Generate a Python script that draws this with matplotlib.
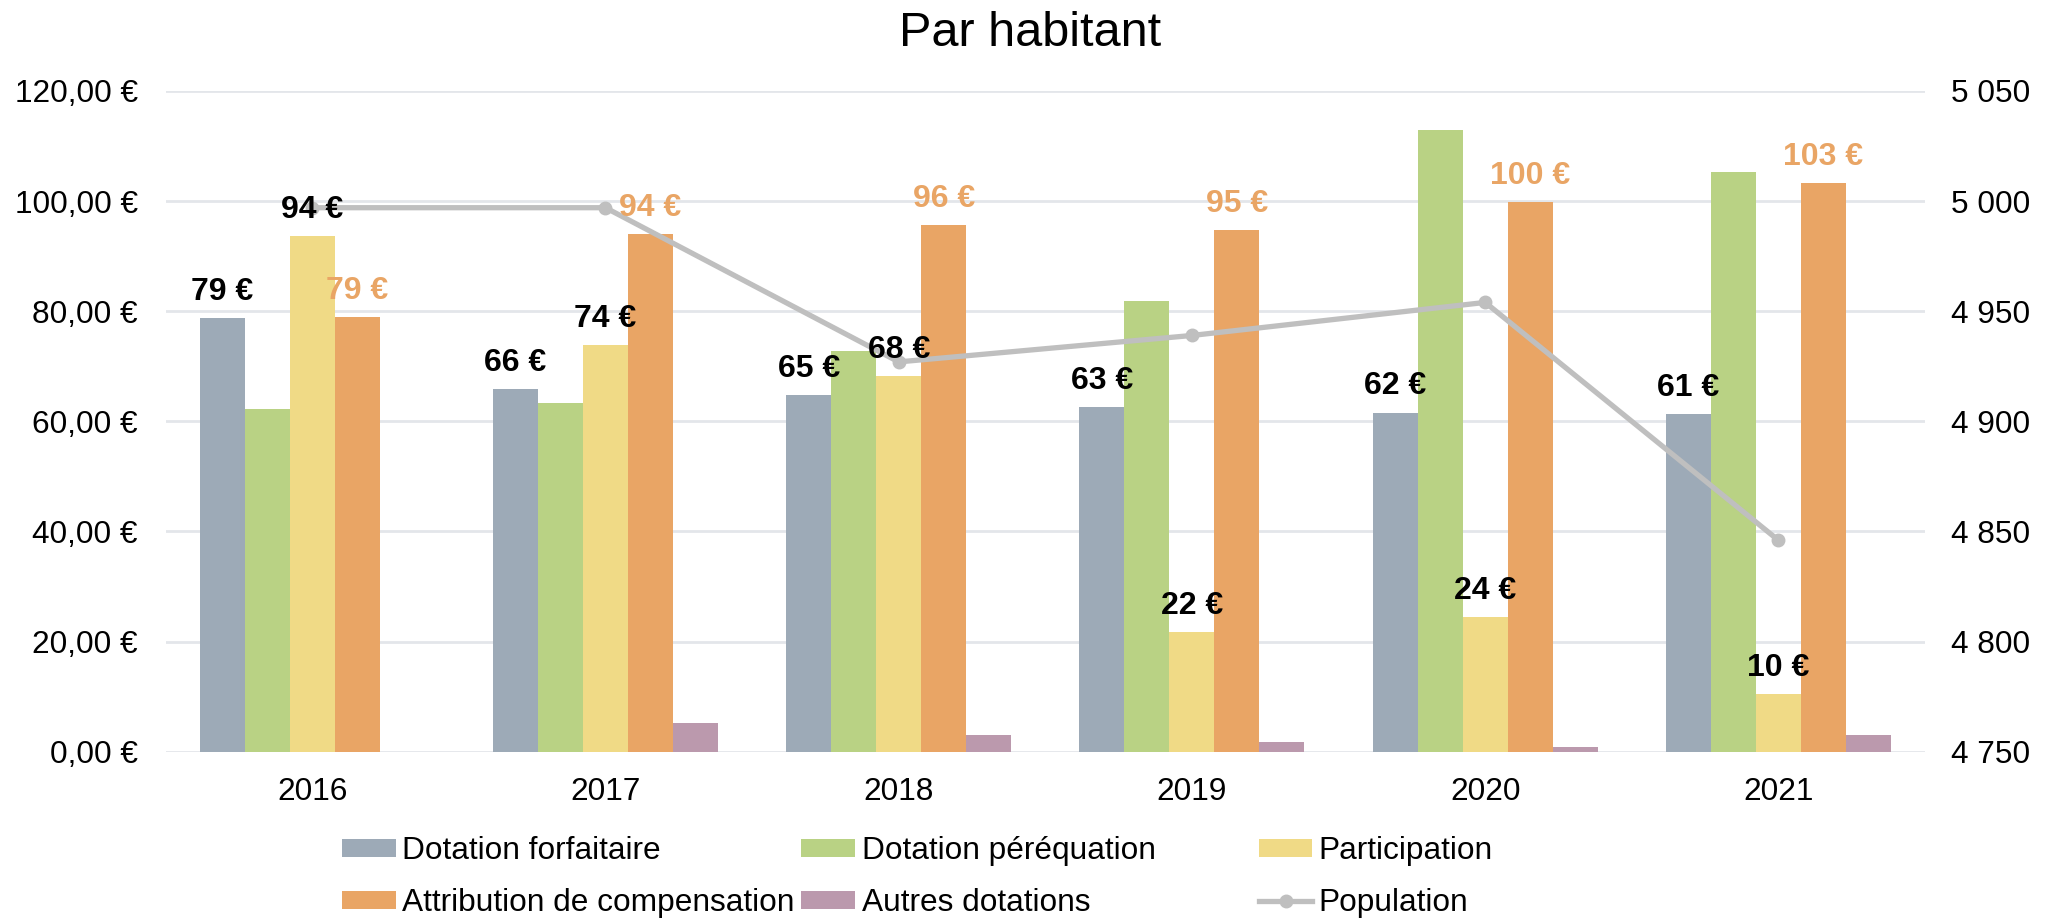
import matplotlib
matplotlib.use("Agg")
import matplotlib.pyplot as plt
import numpy as np
from matplotlib.ticker import FuncFormatter, MultipleLocator

plt.rcParams['font.family'] = ['Liberation Sans', 'DejaVu Sans']

years = ["2016", "2017", "2018", "2019", "2020", "2021"]
forfaitaire = [78.8, 65.9, 64.7, 62.6, 61.6, 61.3]
perequation = [62.3, 63.3, 72.7, 81.9, 113.0, 105.3]
participation = [93.6, 73.8, 68.2, 21.7, 24.4, 10.4]
compensation = [78.9, 94.0, 95.6, 94.7, 99.9, 103.3]
autres = [0.0, 5.15, 3.1, 1.76, 0.85, 3.03]
population = [4997, 4997, 4927, 4939, 4954, 4846]

c_gray = "#9DAAB7"
c_green = "#B9D284"
c_yellow = "#F0DA86"
c_orange = "#E9A565"
c_mauve = "#BB99AD"
c_line = "#BFBFBF"
c_grid = "#E3E6EA"

fs = 22.8

fig = plt.figure(figsize=(20.6, 9.19), dpi=100)
ax = fig.add_axes([0.0804, 0.182, 0.8541, 0.719])
ax2 = ax.twinx()

x = np.arange(len(years))
w = 0.1535
series = [
    ("Dotation forfaitaire", forfaitaire, c_gray),
    ("Dotation péréquation", perequation, c_green),
    ("Participation", participation, c_yellow),
    ("Attribution de compensation", compensation, c_orange),
    ("Autres dotations", autres, c_mauve),
]
bars = []
for i, (name, vals, col) in enumerate(series):
    b = ax.bar(x + (i - 2) * w, vals, w, color=col, label=name, zorder=2)
    bars.append(b)

line, = ax2.plot(x, population, color=c_line, lw=3.8, marker="o", ms=9,
                 label="Population", zorder=3)

ax.set_xlim(-0.5, len(years) - 0.5)
ax.set_ylim(0, 120)
ax.yaxis.set_major_locator(MultipleLocator(20))
ax.yaxis.set_major_formatter(FuncFormatter(lambda v, _: f"{v:.2f} €".replace(".", ",")))
ax2.set_ylim(4750, 5050)
ax2.yaxis.set_major_locator(MultipleLocator(50))
ax2.yaxis.set_major_formatter(FuncFormatter(lambda v, _: f"{int(v):,}".replace(",", " ")))

ax.set_xticks(x)
ax.set_xticklabels(years)
ax.grid(axis="y", color=c_grid, lw=2, zorder=0)
ax.set_axisbelow(True)
for a in (ax, ax2):
    for s in a.spines.values():
        s.set_visible(False)
ax.tick_params(axis="y", length=0, pad=20, labelsize=fs)
ax.tick_params(axis="x", length=0, pad=18, labelsize=fs)
ax2.tick_params(axis="y", length=0, pad=19, labelsize=fs)

# data labels (drawn on ax2 so they sit above the line)
for b, col in [(bars[0], "black"), (bars[2], "black"), (bars[3], c_orange)]:
    for r in b:
        h = r.get_height()
        ax2.annotate(f"{h:.0f} €", (r.get_x() + r.get_width() / 2, h),
                     xycoords=ax.transData, xytext=(0, 8), textcoords="offset points",
                     ha="center", va="bottom", fontsize=23, fontweight="bold",
                     color=col, zorder=5)

fig.text(0.5, 0.95, "Par habitant", ha="center", va="baseline", fontsize=35)

# legend: three fixed-width columns like the original
cols = [
    ([bars[0], bars[3]], [series[0][0], series[3][0]], 0.166),
    ([bars[1], bars[4]], [series[1][0], series[4][0]], 0.389),
    ([bars[2], line], [series[2][0], "Population"], 0.611),
]
for hs, ls, xpos in cols:
    fig.legend(hs, ls, loc="upper left", bbox_to_anchor=(xpos, 0.09),
               frameon=False, fontsize=fs, borderpad=0, borderaxespad=0,
               handlelength=1.7, handleheight=0.5, handletextpad=0.2,
               labelspacing=0.68)

fig.savefig("out.png", dpi=100)
